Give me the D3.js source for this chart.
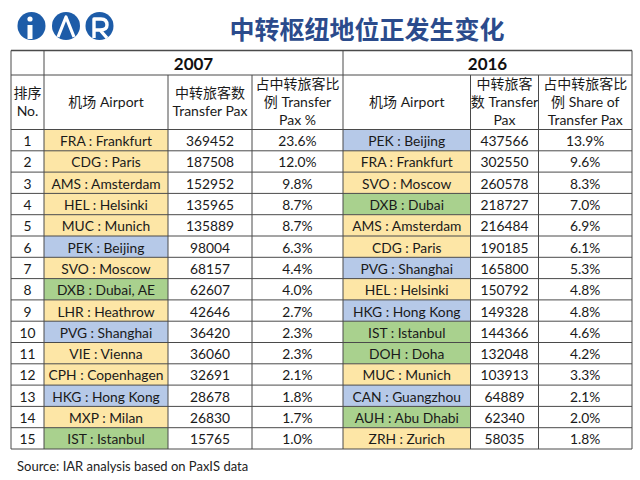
<!DOCTYPE html>
<html>
<head>
<meta charset="utf-8">
<script src="https://cdn.jsdelivr.net/npm/d3@7"></script>
<style>
  body { margin: 0; background: #fff; }
  svg text { font-family: Lato, "Noto Sans CJK SC", sans-serif; }
</style>
</head>
<body>
<svg id="chart" width="640" height="480"></svg>
<script>
// table data
const ranks = [1, 2, 3, 4, 5, 6, 7, 8, 9, 10, 11, 12, 13, 14, 15];

const airports2007 = ["FRA : Frankfurt", "CDG : Paris", "AMS : Amsterdam", "HEL : Helsinki", "MUC : Munich",
    "PEK : Beijing", "SVO : Moscow", "DXB : Dubai, AE", "LHR : Heathrow", "PVG : Shanghai",
    "VIE : Vienna", "CPH : Copenhagen", "HKG : Hong Kong", "MXP : Milan", "IST : Istanbul"];
const pax2007 = [369452, 187508, 152952, 135965, 135889, 98004, 68157, 62607, 42646, 36420, 36060, 32691, 28678, 26830, 15765];
const share2007 = [23.6, 12.0, 9.8, 8.7, 8.7, 6.3, 4.4, 4.0, 2.7, 2.3, 2.3, 2.1, 1.8, 1.7, 1.0];
const region2007 = ["eu", "eu", "eu", "eu", "eu", "asia", "eu", "me", "eu", "asia", "eu", "eu", "asia", "eu", "me"];

const airports2016 = ["PEK : Beijing", "FRA : Frankfurt", "SVO : Moscow", "DXB : Dubai", "AMS : Amsterdam",
    "CDG : Paris", "PVG : Shanghai", "HEL : Helsinki", "HKG : Hong Kong", "IST : Istanbul",
    "DOH : Doha", "MUC : Munich", "CAN : Guangzhou", "AUH : Abu Dhabi", "ZRH : Zurich"];
const pax2016 = [437566, 302550, 260578, 218727, 216484, 190185, 165800, 150792, 149328, 144366, 132048, 103913, 64889, 62340, 58035];
const share2016 = [13.9, 9.6, 8.3, 7.0, 6.9, 6.1, 5.3, 4.8, 4.8, 4.6, 4.2, 3.3, 2.1, 2.0, 1.8];
const region2016 = ["asia", "eu", "eu", "me", "eu", "eu", "asia", "eu", "asia", "me", "me", "eu", "asia", "me", "eu"];

const years = ["2007", "2016"];
const titleText = "中转枢纽地位正发生变化";
const sourceText = "Source: IAR analysis based on PaxIS data";

// header lines per column (multi-line cells)
const headerLines = [
    ["排序", "No."],
    ["机场 Airport"],
    ["中转旅客数", "Transfer Pax"],
    ["占中转旅客比", "例  Transfer", "Pax %"],
    ["机场 Airport"],
    ["中转旅客", "数 Transfer", "Pax"],
    ["占中转旅客比", "例 Share of", "Transfer Pax"]
];

const regionColor = d3.scaleOrdinal()
    .domain(["eu", "asia", "me"])
    .range(["#fde6a6", "#b6c9e8", "#a9d18e"]);

const svg = d3.select("#chart");

// column edges and row layout
const colEdges = [11, 44, 168, 252, 343, 470.5, 538.5, 632];
const tableTop = 50.5, yearBottom = 75, headBottom = 129.5, tableBottom = 449;

const y = d3.scaleBand()
    .domain(ranks)
    .range([headBottom, tableBottom]);

const colMid = i => (colEdges[i] + colEdges[i + 1]) / 2;

drawLogo();
drawTitle();
drawBody();
drawHeader();
drawGrid();
drawSource();

function drawLogo() {
    const logo = svg.append("g");
    const cx = [31.5, 66, 99.5];
    logo.selectAll("circle")
        .data(cx)
        .enter()
        .append("circle")
        .attr("cx", d => d)
        .attr("cy", 26)
        .attr("r", 14)
        .attr("fill", "#1d5ca8");

    // i
    logo.append("circle").attr("cx", 30).attr("cy", 19).attr("r", 2.6).attr("fill", "#fff");
    logo.append("path")
        .attr("d", "M27.5,25 L32.5,25 L32.5,39 L27.5,39 Z")
        .attr("fill", "#fff");
    // A (peak)
    logo.append("path")
        .attr("d", "M58,37 L66,17 L74,37")
        .attr("fill", "none")
        .attr("stroke", "#fff")
        .attr("stroke-width", 3.2)
        .attr("stroke-linejoin", "round");
    // R
    logo.append("path")
        .attr("d", "M94,38 L94,19 L101,19 Q107,19 107,25 Q107,30 100,30 L95,30 M100,30 L107,38")
        .attr("fill", "none")
        .attr("stroke", "#fff")
        .attr("stroke-width", 3.4)
        .attr("stroke-linejoin", "round");
}

function drawTitle() {
    svg.append("text")
        .attr("x", 367)
        .attr("y", 28)
        .attr("text-anchor", "middle")
        .attr("dominant-baseline", "central")
        .style("font-family", "'Noto Sans CJK SC', sans-serif")
        .style("font-weight", "bold")
        .style("font-size", "25px")
        .attr("fill", "#2b4b8c")
        .text(titleText);
}

function drawBody() {
    const rows = ranks.map((r, i) => ({
        rank: r,
        cells: [
            {col: 0, text: String(r)},
            {col: 1, text: airports2007[i], fill: regionColor(region2007[i])},
            {col: 2, text: String(pax2007[i])},
            {col: 3, text: share2007[i].toFixed(1) + "%"},
            {col: 4, text: airports2016[i], fill: regionColor(region2016[i])},
            {col: 5, text: String(pax2016[i])},
            {col: 6, text: share2016[i].toFixed(1) + "%"}
        ]
    }));

    const rowG = svg.selectAll(".row")
        .data(rows)
        .enter()
        .append("g")
        .attr("class", "row")
        .attr("transform", d => `translate(0,${y(d.rank)})`);

    // backgrounds first so they never cover text
    rowG.selectAll("rect")
        .data(d => d.cells.filter(c => c.fill))
        .enter()
        .append("rect")
        .attr("x", d => colEdges[d.col])
        .attr("y", 0)
        .attr("width", d => colEdges[d.col + 1] - colEdges[d.col])
        .attr("height", y.bandwidth())
        .attr("fill", d => d.fill);

    rowG.selectAll("text")
        .data(d => d.cells)
        .enter()
        .append("text")
        .attr("x", d => colMid(d.col))
        .attr("y", y.bandwidth() / 2 + 0.5)
        .attr("text-anchor", "middle")
        .attr("dominant-baseline", "central")
        .style("font-size", "13.8px")
        .attr("fill", "#1a1a1a")
        .text(d => d.text);
}

function drawHeader() {
    // year captions
    svg.selectAll(".year")
        .data(years)
        .enter()
        .append("text")
        .attr("class", "year")
        .attr("x", (d, i) => i === 0 ? (colEdges[1] + colEdges[4]) / 2 : (colEdges[4] + colEdges[7]) / 2)
        .attr("y", (tableTop + yearBottom) / 2 + 1)
        .attr("text-anchor", "middle")
        .attr("dominant-baseline", "central")
        .style("font-size", "17px")
        .style("font-weight", "bold")
        .attr("fill", "#111")
        .text(d => d);

    const lineH = 18;
    const midY = (yearBottom + headBottom) / 2;
    const head = svg.selectAll(".head")
        .data(headerLines)
        .enter()
        .append("text")
        .attr("class", "head")
        .attr("text-anchor", "middle")
        .style("font-size", "14px")
        .attr("fill", "#1a1a1a");

    head.selectAll("tspan")
        .data((d, i) => d.map((t, j) => ({t, j, n: d.length, col: i})))
        .enter()
        .append("tspan")
        .attr("x", d => colMid(d.col))
        .attr("y", d => midY + (d.j - (d.n - 1) / 2) * lineH + 5)
        .text(d => d.t);
}

function drawGrid() {
    const grid = svg.append("g")
        .attr("stroke", "#4a4a4a")
        .attr("stroke-width", 1)
        .attr("fill", "none");

    // horizontal lines
    const hLines = [tableTop, yearBottom, headBottom].concat(ranks.map(r => y(r) + y.bandwidth()));
    grid.selectAll(".h")
        .data(hLines)
        .enter()
        .append("line")
        .attr("x1", colEdges[0])
        .attr("x2", colEdges[7])
        .attr("y1", d => d)
        .attr("y2", d => d);

    // vertical lines: outer + year dividers run full height, others start below year row
    grid.selectAll(".v")
        .data(colEdges)
        .enter()
        .append("line")
        .attr("x1", d => d)
        .attr("x2", d => d)
        .attr("y1", (d, i) => [0, 1, 4, 7].includes(i) ? tableTop : yearBottom)
        .attr("y2", tableBottom);

    grid.append("line")
        .attr("x1", colEdges[0]).attr("x2", colEdges[7])
        .attr("y1", tableTop).attr("y2", tableTop)
        .attr("stroke-width", 1.6);
}

function drawSource() {
    svg.append("text")
        .attr("x", 17)
        .attr("y", 466)
        .attr("dominant-baseline", "central")
        .style("font-size", "13px")
        .attr("fill", "#222")
        .text(sourceText);
}
</script>
</body>
</html>
